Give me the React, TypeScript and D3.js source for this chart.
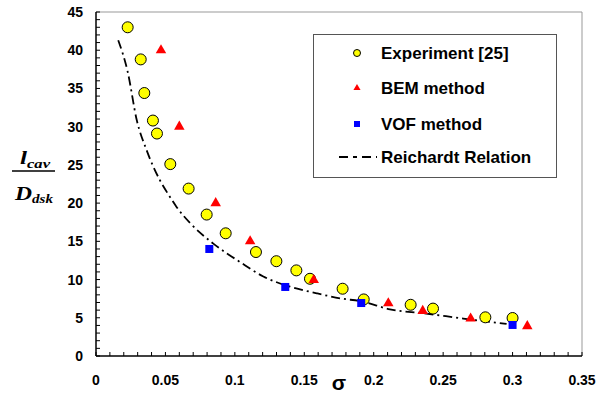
import React from "react";
import * as d3 from "d3";

const expSigma = [0.0228, 0.0322, 0.0348, 0.041, 0.0439, 0.0535, 0.0667, 0.0797, 0.0934, 0.1152, 0.1299, 0.1443, 0.1541, 0.1776, 0.1928, 0.2266, 0.2427, 0.2804, 0.300];
const expL = [43.0, 38.8, 34.4, 30.8, 29.1, 25.1, 21.9, 18.5, 16.05, 13.6, 12.4, 11.2, 10.1, 8.8, 7.4, 6.7, 6.2, 5.06, 4.97];

const bemSigma = [0.0468, 0.06, 0.0862, 0.111, 0.1568, 0.2105, 0.2353, 0.2698, 0.3106];
const bemL = [40.0, 30.0, 20.0, 15.0, 9.94, 6.9, 5.9, 4.9, 3.9];

const vofSigma = [0.0816, 0.1363, 0.191, 0.300];
const vofL = [14.0, 9.03, 6.93, 4.06];

const reiSigma = [0.016, 0.0228, 0.0293, 0.0365, 0.046, 0.0533, 0.058, 0.0677, 0.0845, 0.1037, 0.1205, 0.1397, 0.159, 0.1757, 0.1925, 0.2117, 0.2357, 0.2645, 0.2957];
const reiL = [41.3, 37.2, 30.9, 26.9, 23.0, 20.8, 19.5, 17.4, 14.7, 12.3, 10.4, 9.07, 8.2, 7.55, 7.1, 6.1, 5.6, 4.9, 4.19];

const xTickLabels = ["0", "0.05", "0.1", "0.15", "0.2", "0.25", "0.3", "0.35"];
const yTickLabels = ["0", "5", "10", "15", "20", "25", "30", "35", "40", "45"];
const legendLabels = ["Experiment [25]", "BEM method", "VOF method", "Reichardt Relation"];

const W = 609, H = 401;
const x = d3.scaleLinear().domain([0, 0.35]).range([96, 582]);
const y = d3.scaleLinear().domain([0, 45]).range([356, 12]);

const font = "Arial, 'Liberation Sans', sans-serif";
const serif = "'Liberation Serif', 'Times New Roman', serif";
const dash = "9,4,2,4";

export default function App() {
  const line = d3.line<number>()
    .x((_, i) => x(reiSigma[i]))
    .y((d) => y(d))
    .curve(d3.curveMonotoneX);
  const tri = d3.symbol().type(d3.symbolTriangle).size(48)()!;
  const triSmall = d3.symbol().type(d3.symbolTriangle).size(22)()!;
  const xMinor = d3.range(0, 36).map((i) => i * 0.01);
  const yMinor = d3.range(0, 46);
  const [x0, x1] = x.range();
  const [y0, y1] = y.range();
  const legendRows = [53, 88, 124, 157];
  return (
    <svg width={W} height={H} style={{ position: "absolute", left: 0, top: 0, background: "#fff" }}>
      {/* frame */}
      <line x1={x0} x2={x1} y1={y1} y2={y1} stroke="#999" strokeWidth={1} />
      <line x1={x1} x2={x1} y1={y1} y2={y0} stroke="#999" strokeWidth={1} />
      <line x1={x0} x2={x1} y1={y0} y2={y0} stroke="#000" strokeWidth={1.5} />
      <line x1={x0} x2={x0} y1={y1} y2={y0} stroke="#000" strokeWidth={1.5} />
      {xMinor.map((v, i) => (
        <line key={"xt" + i} x1={x(v)} x2={x(v)} y1={y0} y2={y0 - 4} stroke="#000" strokeWidth={1} />
      ))}
      {yMinor.map((v, i) => (
        <line key={"yt" + i} x1={x0} x2={x0 + 4} y1={y(v)} y2={y(v)} stroke="#000" strokeWidth={1} />
      ))}
      {xTickLabels.map((t, i) => (
        <text key={"xl" + i} x={x(+t)} y={385} textAnchor="middle" fontFamily={font} fontWeight="bold" fontSize={14}>{t}</text>
      ))}
      {yTickLabels.map((t, i) => (
        <text key={"yl" + i} x={83} y={y(+t) + 5} textAnchor="end" fontFamily={font} fontWeight="bold" fontSize={14}>{t}</text>
      ))}
      {/* axis titles */}
      <text x={339} y={390} textAnchor="middle" fontFamily={font} fontWeight="bold" fontSize={21}>σ</text>
      <g fontFamily={serif} fontWeight="bold" fontStyle="italic">
        <text x={20} y={164} fontSize={19} textLength={7} lengthAdjust="spacingAndGlyphs">l</text>
        <text x={27} y={168} fontSize={12} textLength={23} lengthAdjust="spacingAndGlyphs">cav</text>
        <line x1={12} x2={55} y1={171} y2={171} stroke="#000" strokeWidth={1.5} />
        <text x={15} y={200} fontSize={18} textLength={17} lengthAdjust="spacingAndGlyphs">D</text>
        <text x={32} y={203} fontSize={12} textLength={21} lengthAdjust="spacingAndGlyphs">dsk</text>
      </g>
      {/* Reichardt */}
      <path d={line(reiL)!} fill="none" stroke="#000" strokeWidth={1.8} strokeDasharray={dash} />
      {/* experiment */}
      {expL.map((v, i) => (
        <circle key={"e" + i} cx={x(expSigma[i])} cy={y(v)} r={5.5} fill="#ffff00" stroke="#000" strokeWidth={1} />
      ))}
      {bemL.map((v, i) => (
        <path key={"b" + i} d={tri} transform={`translate(${x(bemSigma[i])},${y(v)})`} fill="#ff0000" />
      ))}
      {vofL.map((v, i) => (
        <rect key={"v" + i} x={x(vofSigma[i]) - 4} y={y(vofL[i]) - 4} width={8} height={8} fill="#0000ff" />
      ))}
      {/* legend */}
      <rect x={313.5} y={34.5} width={243} height={143} fill="#fff" stroke="#555" strokeWidth={1} />
      <circle cx={357} cy={legendRows[0]} r={3.5} fill="#ffff00" stroke="#000" strokeWidth={1} />
      <path d={triSmall} transform={`translate(357,${legendRows[1]})`} fill="#ff0000" />
      <rect x={354} y={legendRows[2] - 3} width={6} height={6} fill="#0000ff" />
      <line x1={339} x2={377} y1={legendRows[3]} y2={legendRows[3]} stroke="#000" strokeWidth={1.8} strokeDasharray="9,5,4,5" />
      {legendLabels.map((t, i) => (
        <text key={"lg" + i} x={381} y={legendRows[i] + 6} fontFamily={font} fontWeight="bold" fontSize={17}>{t}</text>
      ))}
    </svg>
  );
}
